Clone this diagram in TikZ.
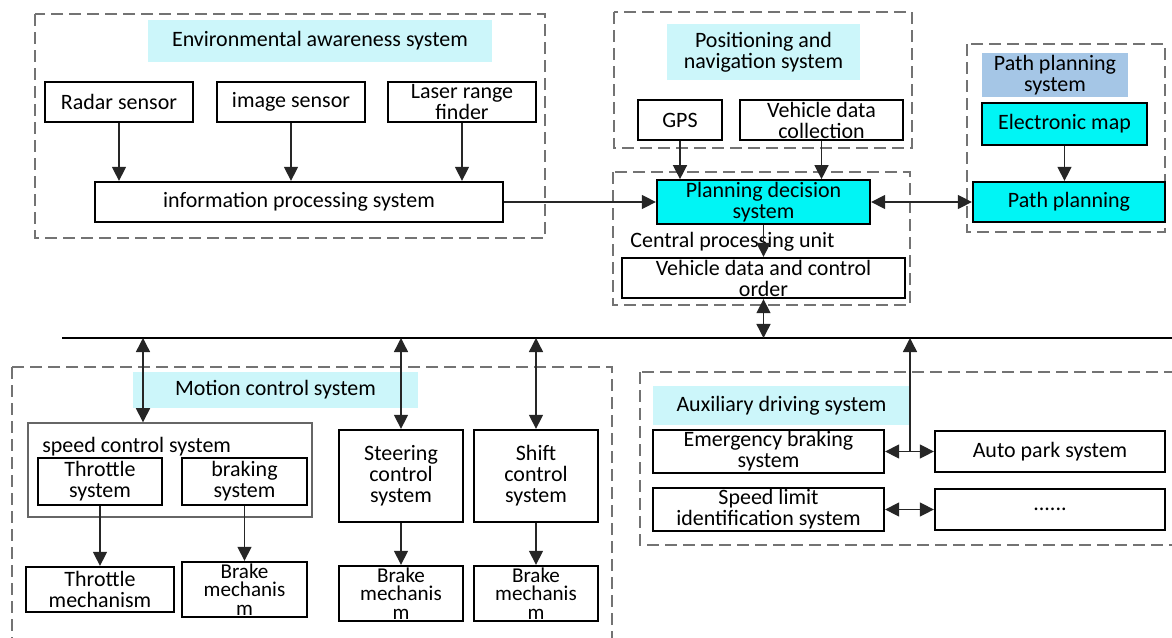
\documentclass[tikz,border=0pt]{standalone}
\usepackage{fontspec}
\setmainfont{Carlito}
\usepackage{xcolor}
\usetikzlibrary{arrows.meta}
\definecolor{palecyan}{RGB}{204,246,250}
\definecolor{brightcyan}{RGB}{0,245,245}
\definecolor{paleblue}{RGB}{165,198,230}
\newcommand{\FB}{\fontsize{12.5}{12}\selectfont}
\newcommand{\FS}{\fontsize{12}{10.5}\selectfont}

\begin{document}
\begin{tikzpicture}
\tikzstyle{group}=[draw=black!55,line width=1pt,dash pattern=on 0.24cm off 0.12cm]
\tikzstyle{box}=[draw=black,line width=1.3pt,fill=white,inner sep=1pt,align=center,font=\FB]
\tikzstyle{hot}=[box,fill=brightcyan]
\tikzstyle{title}=[fill=palecyan,inner sep=1pt,align=center,font=\FB]
\tikzstyle{texto}=[inner sep=0pt,font=\FB]
\tikzstyle{line}=[black!85,line width=0.8pt,-{Triangle[length=8pt,width=8pt]}]
\tikzstyle{both}=[line,{Triangle[length=8pt,width=8pt]}-{Triangle[length=8pt,width=8pt]}]

\useasboundingbox (0,0) rectangle (23.44,-12.76);

\draw[group] (0.70,-0.28) rectangle (10.90,-4.76);
\draw[group] (12.28,-0.24) rectangle (18.24,-2.96);
\draw[group] (12.26,-3.44) rectangle (18.20,-6.10);
\draw[group] (19.34,-0.88) rectangle (23.30,-4.64);
\draw[group] (0.24,-7.34) rectangle (12.24,-13.10);
\draw[group] (12.80,-7.44) rectangle (23.70,-10.90);

\node[title,minimum width=6.88cm,minimum height=0.84cm] (envt) at (6.40,-0.82) {Environmental awareness system};
\node[box,minimum width=2.96cm,minimum height=0.80cm] (radar) at (2.38,-2.04) {Radar sensor};
\node[box,minimum width=2.96cm,minimum height=0.80cm] (image) at (5.82,-2.04) {image sensor};
\node[box,minimum width=2.96cm,minimum height=0.80cm] (laser) at (9.24,-2.04) {Laser range\\finder};
\node[box,minimum width=8.16cm,minimum height=0.80cm] (info) at (5.98,-4.04) {information processing system};

\node[title,minimum width=3.86cm,minimum height=1.12cm] (post) at (15.27,-1.04) {Positioning and\\navigation system};
\node[box,minimum width=1.68cm,minimum height=0.80cm] (gps) at (13.60,-2.40) {GPS};
\node[box,minimum width=3.26cm,minimum height=0.80cm] (vdc) at (16.43,-2.40) {Vehicle data\\collection};

\node[hot,minimum width=4.26cm,minimum height=0.80cm] (plan) at (15.27,-4.04) {Planning decision\\system};
\node[texto,anchor=west] (cpu) at (12.60,-4.84) {Central processing unit};
\node[box,minimum width=5.66cm,minimum height=0.80cm] (order) at (15.27,-5.56) {Vehicle data and control\\order};

\node[title,fill=paleblue,minimum width=2.92cm,minimum height=0.68cm] (patht) at (21.10,-1.50) {Path planning\\system};
\node[hot,minimum width=3.30cm,minimum height=0.84cm] (emap) at (21.29,-2.48) {Electronic map};
\node[hot,minimum width=3.84cm,minimum height=0.80cm] (path) at (21.38,-4.04) {Path planning};

\node[title,minimum width=5.70cm,minimum height=0.72cm] (motiont) at (5.51,-7.80) {Motion control system};
\node[draw=black!60,line width=0.8pt,minimum width=5.68cm,minimum height=1.88cm] (speed) at (3.40,-9.40) {};
\node[texto,anchor=west] (speedt) at (0.84,-8.94) {speed control system};
\node[box,minimum width=2.48cm,minimum height=0.94cm] (thrs) at (2.00,-9.63) {Throttle\\system};
\node[box,minimum width=2.50cm,minimum height=0.94cm] (brks) at (4.89,-9.63) {braking\\system};
\node[box,minimum width=2.48cm,minimum height=1.84cm] (steer) at (8.02,-9.52) {Steering\\control\\system};
\node[box,minimum width=2.48cm,minimum height=1.84cm] (shift) at (10.72,-9.52) {Shift\\control\\system};
\node[box,minimum width=2.96cm,minimum height=0.90cm] (thrm) at (2.00,-11.79) {Throttle\\mechanism};
\node[box,font=\FS,minimum width=2.50cm,minimum height=0.90cm] (brka) at (4.89,-11.79) {Brake\\mechanis\\m};
\node[box,font=\FS,minimum width=2.48cm,minimum height=1.06cm] (brkb) at (8.02,-11.87) {Brake\\mechanis\\m};
\node[box,font=\FS,minimum width=2.48cm,minimum height=1.06cm] (brkc) at (10.72,-11.87) {Brake\\mechanis\\m};

\node[title,minimum width=5.14cm,minimum height=0.78cm] (auxt) at (15.63,-8.11) {Auxiliary driving system};
\node[box,minimum width=4.62cm,minimum height=0.82cm] (emb) at (15.37,-9.03) {Emergency braking\\system};
\node[box,minimum width=4.60cm,minimum height=0.82cm] (aps) at (21.00,-9.03) {Auto park system};
\node[box,minimum width=4.62cm,minimum height=0.82cm] (sli) at (15.37,-10.19) {Speed limit\\identification system};
\node[box,minimum width=4.60cm,minimum height=0.82cm] (more) at (21.00,-10.19) {......};

\coordinate (busl) at (1.24,-6.76);
\coordinate (busr) at (23.44,-6.76);
\coordinate (bus1) at (2.86,-6.76);
\coordinate (bus2) at (8.02,-6.76);
\coordinate (bus3) at (10.72,-6.76);
\coordinate (bus4) at (15.27,-6.76);
\coordinate (bus5) at (18.20,-6.76);
\coordinate (tap) at (18.20,-9.03);

\draw[black,line width=1pt] (busl) -- (busr);

\draw[line] (radar.south) -- (radar.south |- info.north);
\draw[line] (image.south) -- (image.south |- info.north);
\draw[line] (laser.south) -- (laser.south |- info.north);
\draw[line] (info.east) -- (plan.west);
\draw[line] (gps.south) -- (gps.south |- plan.north);
\draw[line] (vdc.south) -- (vdc.south |- plan.north);
\draw[line] (plan.south) -- (order.north);
\draw[both] (plan.east) -- (plan.east -| path.west);
\draw[line] (emap.south) -- (emap.south |- path.north);
\draw[both] (order.south) -- (bus4);

\draw[both] (bus1) -- (bus1 |- speed.north);
\draw[both] (bus2) -- (steer.north);
\draw[both] (bus3) -- (shift.north);
\draw[line] (thrs.south) -- (thrm.north);
\draw[line] (brks.south) -- (brka.north);
\draw[line] (steer.south) -- (brkb.north);
\draw[line] (shift.south) -- (brkc.north);

\draw[both] (emb.east) -- (aps.west);
\draw[both] (sli.east) -- (more.west);
\draw[line] (tap) -- (bus5);
\end{tikzpicture}
\end{document}
